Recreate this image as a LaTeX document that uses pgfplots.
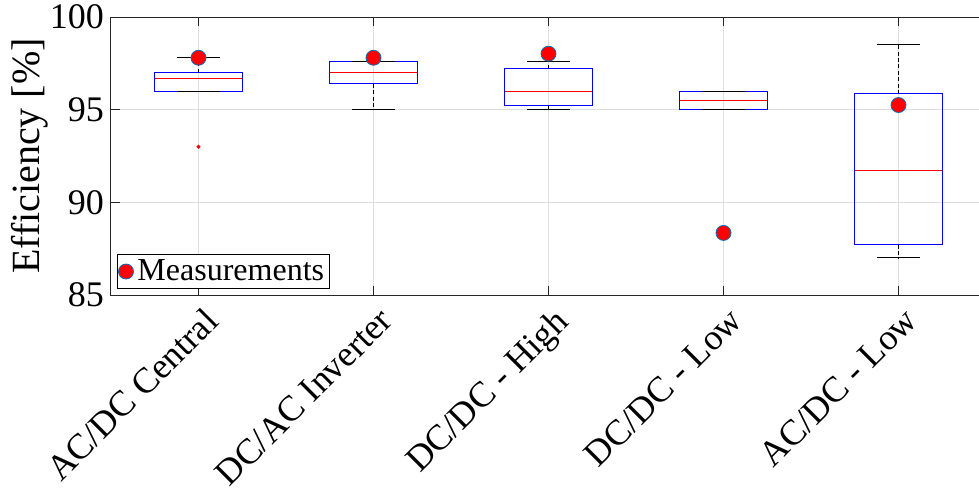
\documentclass[border=0pt]{standalone}
\usepackage{pgfplots}
\pgfplotsset{compat=1.18}
\usepgfplotslibrary{statistics}
\usepackage{fontspec}
\setmainfont{Liberation Serif}
\definecolor{axgray}{rgb}{0.15,0.15,0.15}
\definecolor{mlblue}{rgb}{0,0.447,0.741}
\begin{document}
\begin{tikzpicture}
\begin{axis}[
  name=ax,
  scale only axis,
  width=437.5pt, height=139pt,
  xmin=0.5, xmax=5.5, ymin=85, ymax=100,
  xtick={1,2,3,4,5},
  xticklabels={AC/DC Central, DC/AC Inverter, DC/DC - High, DC/DC - Low, AC/DC - Low},
  ytick={85,90,95,100},
  grid=major,
  grid style={draw=black!13, line width=0.5pt},
  axis line style={draw=axgray, line width=0.5pt},
  tick style={draw=axgray, line width=0.5pt},
  major tick length=4.5pt,
  tick align=inside,
  xtick pos=both, ytick pos=left,
  /pgf/number format/assume math mode=true,
  tick label style={font=\fontsize{18}{20}\selectfont, text=black},
  xticklabel style={xshift=2pt, yshift=-0.5pt, rotate=45, anchor=north east},
  ylabel={Efficiency [\%]},
  ylabel style={font=\fontsize{20}{24}\selectfont, at={(axis description cs:-0.0926,0.5)}, anchor=center},
  legend style={at={(0,0)}, anchor=south west, xshift=3pt, yshift=3pt,
    font=\fontsize{16}{18}\selectfont, inner sep=0.5pt, draw=black, line width=0.5pt,
    /tikz/every even column/.append style={column sep=0pt}},
  legend cell align=left,
  legend image code/.code={\draw[#1, only marks] plot coordinates {(0.13cm,0cm)};},
  boxplot/draw direction=y,
  boxplot/box extend=0.5,
  boxplot/whisker extend=0,
  boxplot/every box/.style={draw=blue, line width=0.5pt},
  boxplot/every median/.style={draw=red, line width=0.5pt},
  boxplot/every whisker/.style={draw=black, dash pattern=on 2pt off 1.2pt, line width=0.5pt},
]
\addplot[blue, forget plot, mark=*, mark size=0.8pt, mark options={fill=red, draw=red, solid},
  boxplot prepared={draw position=1, lower whisker=96.0, lower quartile=96.0, median=96.7, upper quartile=97.0, upper whisker=97.8}]
  table[row sep=\\, y index=0] {93.0\\};
\addplot[blue, forget plot, mark=none,
  boxplot prepared={draw position=2, lower whisker=95.0, lower quartile=96.4, median=97.0, upper quartile=97.6, upper whisker=97.6}]
  coordinates {};
\addplot[blue, forget plot, mark=none,
  boxplot prepared={draw position=3, lower whisker=95.0, lower quartile=95.25, median=96.0, upper quartile=97.2, upper whisker=97.6}]
  coordinates {};
\addplot[blue, forget plot, mark=none,
  boxplot prepared={draw position=4, lower whisker=95.0, lower quartile=95.0, median=95.5, upper quartile=96.0, upper whisker=96.0}]
  coordinates {};
\addplot[blue, forget plot, mark=none,
  boxplot prepared={draw position=5, lower whisker=87.0, lower quartile=87.7, median=91.7, upper quartile=95.85, upper whisker=98.5}]
  coordinates {};
% whisker caps
\addplot[forget plot, only marks, mark=-, mark size=10.75pt, mark options={solid, draw=black, line width=0.5pt}] coordinates {
 (1,97.8) (1,96.0) (2,97.6) (2,95.0) (3,97.6) (3,95.0) (4,96.0) (4,95.0) (5,98.5) (5,87.0)};
% measurements
\addplot[only marks, mark=*, mark size=3.75pt, mark options={fill=red, draw=mlblue, line width=0.4pt}] coordinates {
 (1,97.8) (2,97.8) (3,98.02) (4,88.35) (5,95.25)};
\addlegendentry{Measurements}
\end{axis}
\pgfresetboundingbox
\path[use as bounding box] ([shift={(-55.5pt,-96.5pt)}]ax.south west) rectangle ([shift={(434pt,147.5pt)}]ax.south west);
\end{tikzpicture}
\end{document}
